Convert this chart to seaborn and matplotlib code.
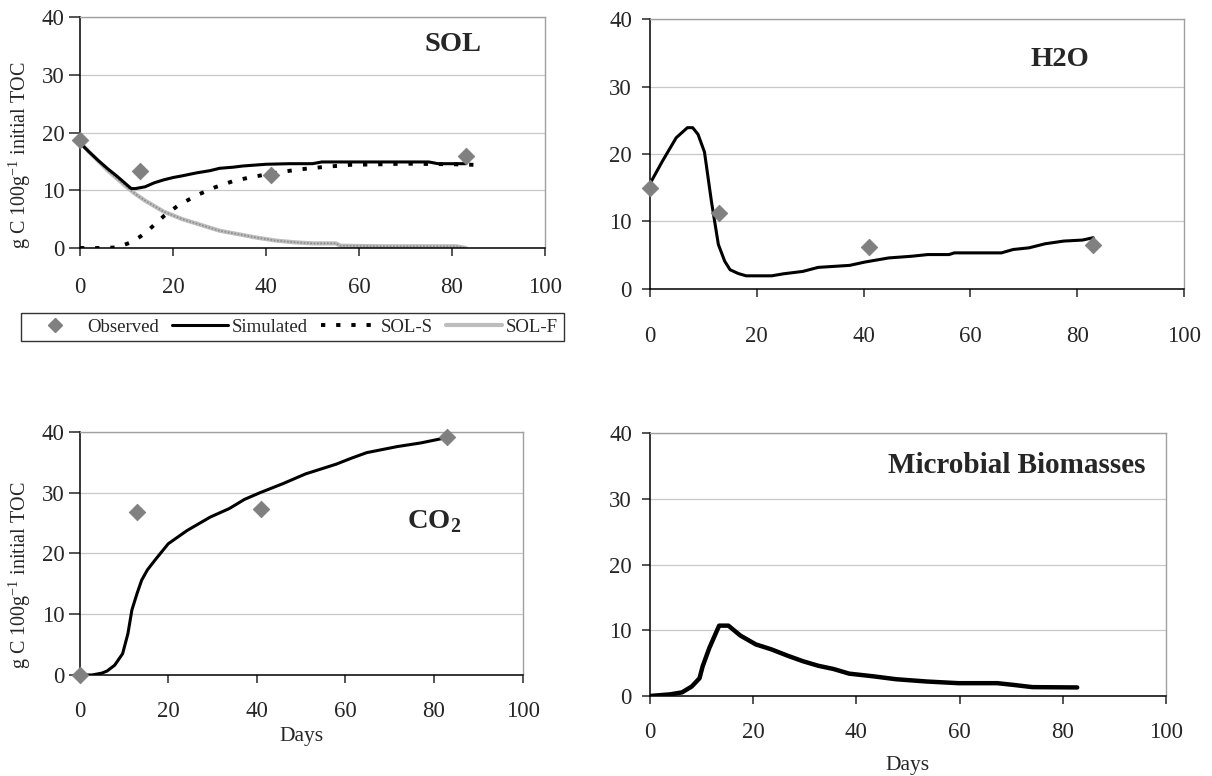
import pandas as pd
import matplotlib
matplotlib.use('Agg')
import matplotlib.pyplot as plt
import seaborn as sns
from matplotlib.lines import Line2D

# observed days (same for every pool)
obs_days = [0, 13, 41, 83]

# SOL pool
sol_obs = [18.7, 13.3, 12.6, 15.9]
sol_sim_days = [0, 2, 4, 6, 8, 10, 11, 12, 14, 16, 18, 20, 22, 25, 28, 30, 33, 35, 40,
                45, 50, 52, 60, 70, 75, 77, 80, 83]
sol_sim = [18.2, 16.6, 15.1, 13.7, 12.4, 11.0, 10.3, 10.3, 10.6, 11.3, 11.8, 12.2, 12.5,
           13.0, 13.4, 13.8, 14.0, 14.2, 14.5, 14.6, 14.6, 14.9, 14.9, 14.9, 14.9, 14.6, 14.6, 14.6]
sols_days = [0, 4, 8, 11, 13, 15, 18, 21, 25, 29, 33, 37, 42, 47, 52, 58, 65, 70, 80, 85]
sols = [0, 0, 0.1, 1.0, 2.0, 3.3, 5.5, 7.3, 9.1, 10.5, 11.6, 12.3, 13.0, 13.6, 14.0, 14.4,
        14.5, 14.6, 14.5, 14.4]
solf_days = [0, 2, 4, 6, 8, 10, 12, 14, 18, 22, 26, 30, 34, 38, 42, 46, 50, 55, 56, 65, 75,
             81, 83]
solf = [18.3, 16.6, 15.0, 13.4, 12.0, 10.6, 9.3, 8.2, 6.3, 5.0, 4.0, 3.0, 2.4, 1.8, 1.3, 1.0,
        0.8, 0.8, 0.4, 0.3, 0.3, 0.3, 0.0]

# H2O pool
h2o_obs = [15.0, 11.2, 6.2, 6.45]
h2o_sim_days = [0, 2.3, 4.9, 7, 8, 9, 10.2, 11.5, 12.8, 14, 15, 16.5, 18, 22.8, 25, 28.6,
                31.5, 37.4, 40.3, 44.7, 49, 52, 56, 57, 65.8, 68, 71, 74, 77.5, 81, 83]
h2o_sim = [15.6, 18.9, 22.4, 23.9, 23.9, 22.9, 20.3, 13.0, 6.6, 4.1, 2.85, 2.3, 1.95, 1.95,
           2.25, 2.6, 3.2, 3.5, 4.0, 4.6, 4.85, 5.1, 5.1, 5.35, 5.35, 5.85, 6.1, 6.7, 7.1,
           7.25, 7.6]

# CO2 pool
co2_obs = [0, 26.9, 27.4, 39.1]
co2_sim_days = [0, 2.8, 5, 6.2, 7.9, 9.7, 10.9, 11.8, 13, 14, 15.3, 17, 20, 24.3, 29.5, 33.8,
                37.2, 40.7, 45.9, 51, 57.9, 61.4, 64.8, 71.7, 77, 83]
co2_sim = [0, 0, 0.3, 0.65, 1.6, 3.5, 6.8, 10.7, 13.5, 15.6, 17.3, 18.9, 21.6, 23.8, 26.0,
           27.4, 28.9, 30.0, 31.5, 33.1, 34.7, 35.7, 36.6, 37.6, 38.2, 39.1]

# microbial biomasses
mb_days = [0, 3.9, 6.2, 8.1, 9.6, 10.2, 11.5, 13.4, 15.2, 17.5, 20.5, 23.5, 26.6, 29.6, 32.6,
           35.6, 38.6, 43.2, 47.7, 53.7, 59.8, 67.3, 70.3, 74.1, 82.8]
mb_sim = [0, 0.25, 0.55, 1.45, 2.7, 4.5, 7.3, 10.7, 10.7, 9.2, 7.85, 7.1, 6.15, 5.3, 4.6,
          4.1, 3.4, 3.0, 2.55, 2.2, 1.95, 1.95, 1.7, 1.35, 1.3]

sns.set_style('white')
plt.rcParams['font.family'] = ['Liberation Serif', 'DejaVu Serif']
plt.rcParams['mathtext.fontset'] = 'custom'
plt.rcParams['mathtext.rm'] = 'Liberation Serif'
plt.rcParams['mathtext.bf'] = 'Liberation Serif:bold'

OBS_COLOR = '#808080'
ylab = 'g C 100g$^{-1}$ initial TOC'

fig = plt.figure(figsize=(12.12, 7.76), dpi=100)
ax1 = fig.add_axes([0.0660, 0.6804, 0.3837, 0.2977])
ax2 = fig.add_axes([0.5363, 0.6276, 0.4406, 0.3479])
ax3 = fig.add_axes([0.0657, 0.1302, 0.3655, 0.3131])
ax4 = fig.add_axes([0.5363, 0.1031, 0.4257, 0.3389])


def style_axes(ax, xpad=13, ylen=8, ypad=3):
    ax.set_xlim(0, 100)
    ax.set_ylim(0, 40)
    ax.set_xticks([0, 20, 40, 60, 80, 100])
    ax.set_yticks([0, 10, 20, 30, 40])
    ax.grid(axis='y', color='#c8c8c8', lw=0.9)
    ax.set_axisbelow(True)
    for s in ['left', 'bottom']:
        ax.spines[s].set_color('black')
        ax.spines[s].set_linewidth(1.1)
    for s in ['top', 'right']:
        ax.spines[s].set_color('#a0a0a0')
        ax.spines[s].set_linewidth(1.0)
    ax.tick_params(axis='x', direction='out', length=6, width=1.1, pad=xpad,
                   labelsize=16.5, bottom=True)
    ax.tick_params(axis='y', direction='out', length=ylen, width=1.1, pad=ypad,
                   labelsize=16.5, left=True)
    ax.set_xlabel('')
    ax.set_ylabel('')


def observed(ax, yvals):
    df = pd.DataFrame({'day': obs_days, 'val': yvals})
    sns.scatterplot(data=df, x='day', y='val', ax=ax, marker='D', s=70,
                    color=OBS_COLOR, edgecolor=OBS_COLOR, zorder=5, clip_on=False)


# SOL
d = pd.DataFrame({'day': solf_days, 'val': solf})
sns.lineplot(data=d, x='day', y='val', ax=ax1, color='#bdbdbd', lw=3, zorder=2)
sns.lineplot(data=d, x='day', y='val', ax=ax1, color='#8c8c8c', lw=1.2,
             linestyle=(0, (1, 1)), zorder=2)
d = pd.DataFrame({'day': sols_days, 'val': sols})
sns.lineplot(data=d, x='day', y='val', ax=ax1, color='black', lw=2.8,
             linestyle=(0, (1.1, 2.8)), zorder=3)
d = pd.DataFrame({'day': sol_sim_days, 'val': sol_sim})
sns.lineplot(data=d, x='day', y='val', ax=ax1, color='black', lw=2.2, zorder=4)
observed(ax1, sol_obs)
style_axes(ax1, xpad=15)
ax1.set_ylabel(ylab, fontsize=14.5)
ax1.yaxis.set_label_coords(-0.101, 0.40)
ax1.text(80.3, 35.3, 'SOL', ha='center', va='center', fontsize=20.5, fontweight='bold')

handles = [
    Line2D([], [], marker='D', color=OBS_COLOR, ls='none', markersize=7.5),
    Line2D([], [], color='black', lw=2.2),
    Line2D([], [], color='black', lw=2.8, ls=(0, (1.1, 2.8))),
    Line2D([], [], color='#bdbdbd', lw=3),
]
leg = fig.legend(handles, ['Observed', 'Simulated', 'SOL-S', 'SOL-F'], ncol=4,
                 loc='center', bbox_to_anchor=(0.2413, 1 - 327 / 776), fontsize=13.5,
                 frameon=True, fancybox=False, edgecolor='black', handlelength=3.0,
                 handletextpad=0.2, columnspacing=0.7, borderpad=0.3)
leg.get_frame().set_linewidth(1.0)

# H2O
d = pd.DataFrame({'day': h2o_sim_days, 'val': h2o_sim})
sns.lineplot(data=d, x='day', y='val', ax=ax2, color='black', lw=2.2)
observed(ax2, h2o_obs)
style_axes(ax2, xpad=21, ylen=6, ypad=7)
ax2.text(76.8, 34, 'H2O', ha='center', va='center', fontsize=20.5, fontweight='bold')

# CO2
d = pd.DataFrame({'day': co2_sim_days, 'val': co2_sim})
sns.lineplot(data=d, x='day', y='val', ax=ax3, color='black', lw=2.2)
observed(ax3, co2_obs)
style_axes(ax3)
ax3.set_ylabel(ylab, fontsize=14.5)
ax3.yaxis.set_label_coords(-0.105, 0.41)
ax3.set_xlabel('Days', fontsize=15.5, labelpad=3)
ax3.text(80, 25.2, r'CO$_\mathbf{2}$', ha='center', va='center', fontsize=20.5,
         fontweight='bold')

# Microbial biomasses
d = pd.DataFrame({'day': mb_days, 'val': mb_sim})
sns.lineplot(data=d, x='day', y='val', ax=ax4, color='black', lw=3.2)
style_axes(ax4, ylen=6, ypad=7)
ax4.set_xlabel('Days', fontsize=15.5, labelpad=9)
ax4.text(71, 35, 'Microbial Biomasses', ha='center', va='center', fontsize=21,
         fontweight='bold')

fig.savefig('out.png', dpi=100)
